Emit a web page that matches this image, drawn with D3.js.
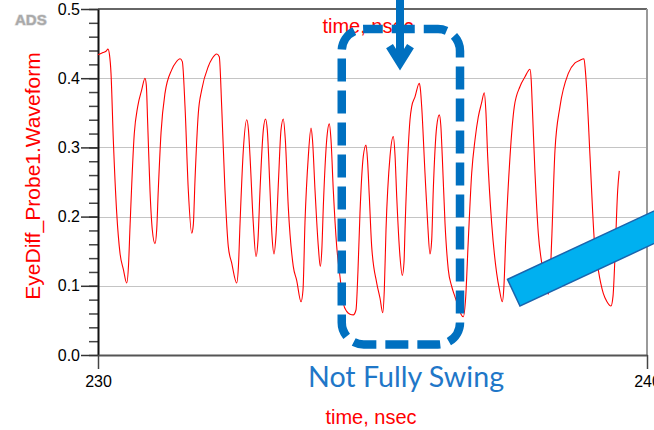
<!DOCTYPE html>
<html>
<head>
<meta charset="utf-8">
<script src="https://cdn.jsdelivr.net/npm/d3@7"></script>
<style>
  html, body { margin: 0; padding: 0; background: #fff; }
  svg { display: block; }
</style>
</head>
<body>
<svg id="chart" width="654" height="430"></svg>
<script>
// Eye-diff probe waveform, 230–240 ns
const timeNs = [
  230.000, 230.091, 230.146, 230.182, 230.209, 230.237, 230.279, 230.341, 230.401, 230.464,
  230.523, 230.556, 230.583, 230.661, 230.723, 230.796, 230.856, 230.880, 230.905, 230.947,
  230.989, 231.038, 231.069, 231.098, 231.148, 231.220, 231.342, 231.421, 231.494, 231.536,
  231.585, 231.645, 231.707, 231.736, 231.767, 231.827, 231.889, 232.009, 232.077, 232.162,
  232.209, 232.253, 232.313, 232.373, 232.435, 232.526, 232.559, 232.587, 232.647, 232.709,
  232.741, 232.769, 232.829, 232.878, 232.914, 232.951, 233.011, 233.051, 233.084, 233.133,
  233.169, 233.206, 233.242, 233.288, 233.333, 233.375, 233.412, 233.466, 233.557, 233.619,
  233.698, 233.734, 233.770, 233.831, 233.880, 233.907, 233.953, 234.013, 234.049, 234.077,
  234.104, 234.166, 234.213, 234.244, 234.286, 234.348, 234.408, 234.468, 234.530, 234.590,
  234.650, 234.699, 234.736, 234.772, 234.832, 234.882, 234.909, 234.942, 234.985, 235.077,
  235.137, 235.186, 235.215, 235.246, 235.319, 235.379, 235.410, 235.441, 235.501, 235.543,
  235.574, 235.592, 235.652, 235.683, 235.714, 235.774, 235.853, 235.874, 235.896, 235.956,
  236.005, 236.047, 236.078, 236.107, 236.169, 236.217, 236.244, 236.271, 236.321, 236.381,
  236.443, 236.503, 236.563, 236.612, 236.654, 236.694, 236.745, 236.807, 236.867, 236.927,
  236.986, 237.036, 237.064, 237.098, 237.171, 237.262, 237.313, 237.364, 237.395, 237.426,
  237.505, 237.583, 237.687, 237.778, 237.869, 237.891, 237.911, 237.960, 238.020, 238.093,
  238.151, 238.202, 238.233, 238.264, 238.324, 238.415, 238.567, 238.689, 238.780, 238.852,
  238.876, 238.902, 238.962, 239.040, 239.113, 239.204, 239.271, 239.344, 239.381, 239.417,
  239.466, 239.495
];
const waveform = [
  0.434, 0.437, 0.439, 0.442, 0.434, 0.407, 0.311, 0.205, 0.147, 0.123,
  0.104, 0.130, 0.185, 0.320, 0.359, 0.383, 0.400, 0.390, 0.335, 0.238,
  0.181, 0.161, 0.181, 0.238, 0.321, 0.378, 0.412, 0.423, 0.428, 0.424,
  0.359, 0.238, 0.176, 0.188, 0.253, 0.349, 0.383, 0.417, 0.428, 0.435,
  0.431, 0.359, 0.238, 0.157, 0.133, 0.104, 0.130, 0.190, 0.296, 0.340,
  0.325, 0.287, 0.190, 0.142, 0.166, 0.238, 0.325, 0.341, 0.325, 0.238,
  0.173, 0.146, 0.173, 0.253, 0.325, 0.341, 0.311, 0.214, 0.128, 0.108,
  0.077, 0.094, 0.191, 0.287, 0.328, 0.311, 0.238, 0.157, 0.128, 0.152,
  0.214, 0.311, 0.334, 0.311, 0.238, 0.157, 0.113, 0.075, 0.063, 0.059,
  0.058, 0.065, 0.123, 0.205, 0.287, 0.3035, 0.282, 0.229, 0.157, 0.104,
  0.082, 0.061, 0.094, 0.181, 0.287, 0.3155, 0.289, 0.229, 0.142, 0.115,
  0.134, 0.181, 0.301, 0.340, 0.359, 0.373, 0.3926, 0.383, 0.359, 0.263,
  0.190, 0.146, 0.166, 0.238, 0.330, 0.347, 0.332, 0.287, 0.190, 0.123,
  0.099, 0.084, 0.070, 0.059, 0.0553, 0.079, 0.166, 0.263, 0.311, 0.344,
  0.364, 0.379, 0.354, 0.287, 0.190, 0.118, 0.094, 0.077, 0.101, 0.166,
  0.287, 0.359, 0.388, 0.402, 0.413, 0.397, 0.359, 0.263, 0.176, 0.128,
  0.104, 0.088, 0.108, 0.166, 0.296, 0.359, 0.407, 0.422, 0.426, 0.428,
  0.412, 0.383, 0.287, 0.166, 0.123, 0.089, 0.077, 0.0708, 0.085, 0.142,
  0.238, 0.266
];

const xTicks = [230, 240];
const yTicks = [0.0, 0.1, 0.2, 0.3, 0.4, 0.5];
const yGrid = [0.1, 0.2, 0.3, 0.4];
const xLabel = "time, nsec";
const yLabel = "EyeDiff_Probe1.Waveform";
const calloutText = "Not Fully Swing";

const svg = d3.select("#chart");
const plotL = 98, plotR = 647, plotT = 9, plotB = 355;

const x = d3.scaleLinear().domain([230, 240]).range([plotL, plotR]);
const y = d3.scaleLinear().domain([0, 0.5]).range([plotB, plotT]);

// horizontal grid
svg.append("g").selectAll("line").data(yGrid).join("line")
  .attr("x1", plotL).attr("x2", plotR)
  .attr("y1", d => Math.round(y(d)) + 0.5).attr("y2", d => Math.round(y(d)) + 0.5)
  .attr("stroke", "#c4c4c4").attr("stroke-width", 1.2);

// frame: top and right edges
svg.append("line").attr("x1", plotL).attr("x2", plotR).attr("y1", plotT).attr("y2", plotT)
  .attr("stroke", "#333").attr("stroke-width", 1.5);
svg.append("line").attr("x1", plotR).attr("x2", plotR).attr("y1", plotT).attr("y2", plotB)
  .attr("stroke", "#9a9a9a").attr("stroke-width", 2);

// minor y ticks
const minorTicks = d3.range(0, 0.5001, 0.02);
svg.append("g").attr("transform", `translate(${plotL},0)`)
  .call(d3.axisLeft(y).tickValues(minorTicks).tickSize(9).tickSizeOuter(0).tickFormat(""))
  .call(g => g.select(".domain").remove())
  .call(g => g.selectAll(".tick line").attr("stroke", "#444").attr("stroke-width", 1.5));

// major y axis
svg.append("g").attr("transform", `translate(${plotL},0)`)
  .call(d3.axisLeft(y).tickValues(yTicks).tickSize(17).tickSizeOuter(0).tickPadding(1)
    .tickFormat(d3.format(".1f")))
  .call(g => g.select(".domain").attr("stroke", "#111").attr("stroke-width", 2))
  .call(g => g.selectAll(".tick line").attr("stroke", "#333").attr("stroke-width", 1.5))
  .call(g => g.selectAll(".tick text").attr("fill", "#000")
    .attr("font-family", "Liberation Sans, Arial, sans-serif").attr("font-size", 16));

// x axis
svg.append("g").attr("transform", `translate(0,${plotB})`)
  .call(d3.axisBottom(x).tickValues(xTicks).tickSize(14).tickSizeOuter(0).tickPadding(7)
    .tickFormat(d3.format("d")))
  .call(g => g.select(".domain").attr("stroke", "#555").attr("stroke-width", 2))
  .call(g => g.selectAll(".tick line").attr("stroke", "#444").attr("stroke-width", 1.5))
  .call(g => g.selectAll(".tick text").attr("fill", "#000")
    .attr("font-family", "Liberation Sans, Arial, sans-serif").attr("font-size", 16));

// axis titles
svg.append("text").attr("x", 371).attr("y", 424).attr("text-anchor", "middle")
  .attr("font-family", "Liberation Sans, Arial, sans-serif").attr("font-size", 20)
  .attr("fill", "#ff0000").text(xLabel);
svg.append("text").attr("x", 368).attr("y", 33).attr("text-anchor", "middle")
  .attr("font-family", "Liberation Sans, Arial, sans-serif").attr("font-size", 20)
  .attr("fill", "#ff0000").text(xLabel);
svg.append("text").attr("transform", "translate(40,176) rotate(-90)").attr("text-anchor", "middle")
  .attr("font-family", "Liberation Sans, Arial, sans-serif").attr("font-size", 21)
  .attr("fill", "#ff0000").text(yLabel);

// ADS badge
svg.append("text").attr("x", 15).attr("y", 25)
  .attr("font-family", "Liberation Sans, Arial, sans-serif").attr("font-size", 15).attr("font-weight", "bold")
  .attr("fill", "#a9a9a9").attr("stroke", "#d8d8d8").attr("stroke-width", 1.2)
  .attr("paint-order", "stroke").text("ADS");

// waveform
const pts = timeNs.map((t, i) => [t, waveform[i]]);
svg.append("path").datum(pts)
  .attr("fill", "none").attr("stroke", "#ff0000").attr("stroke-width", 1.1)
  .attr("d", d3.line().x(d => x(d[0])).y(d => y(d[1])).curve(d3.curveMonotoneX));

// callout: dashed rounded box around the low-swing bits
const blue = "#0070c0";
const bx0 = x(234.44), bx1 = x(236.594), by0 = y(0.471), by1 = y(0.0152);
svg.append("rect")
  .attr("x", bx0).attr("y", by0).attr("width", bx1 - bx0).attr("height", by1 - by0)
  .attr("rx", 22).attr("ry", 22)
  .attr("fill", "none").attr("stroke", blue).attr("stroke-width", 8.5)
  .attr("stroke-dasharray", "23 9").attr("stroke-dashoffset", 4);

// callout: downward arrow
const ax = x(235.501);
svg.append("line").attr("x1", ax).attr("x2", ax).attr("y1", -2).attr("y2", y(0.425))
  .attr("stroke", blue).attr("stroke-width", 8);
svg.append("path")
  .attr("d", `M${x(235.31)},${y(0.4465)} L${ax},${y(0.422)} L${x(235.692)},${y(0.4465)}`)
  .attr("fill", "none").attr("stroke", blue).attr("stroke-width", 8)
  .attr("stroke-linejoin", "miter").attr("stroke-linecap", "butt");

// callout text
svg.append("text").attr("x", 308).attr("y", 387)
  .attr("font-family", "Lato, 'Open Sans', sans-serif").attr("font-size", 29)
  .attr("fill", "#1f77c8").attr("textLength", 196).attr("lengthAdjust", "spacingAndGlyphs")
  .text(calloutText);

// pointer bar in the lower right
svg.append("rect")
  .attr("x", 0).attr("y", 0).attr("width", 240).attr("height", 29.5)
  .attr("transform", "translate(507.5,279.3) rotate(-25)")
  .attr("fill", "#00b0f0").attr("stroke", "#1a64ad").attr("stroke-width", 1.5);
</script>
</body>
</html>
